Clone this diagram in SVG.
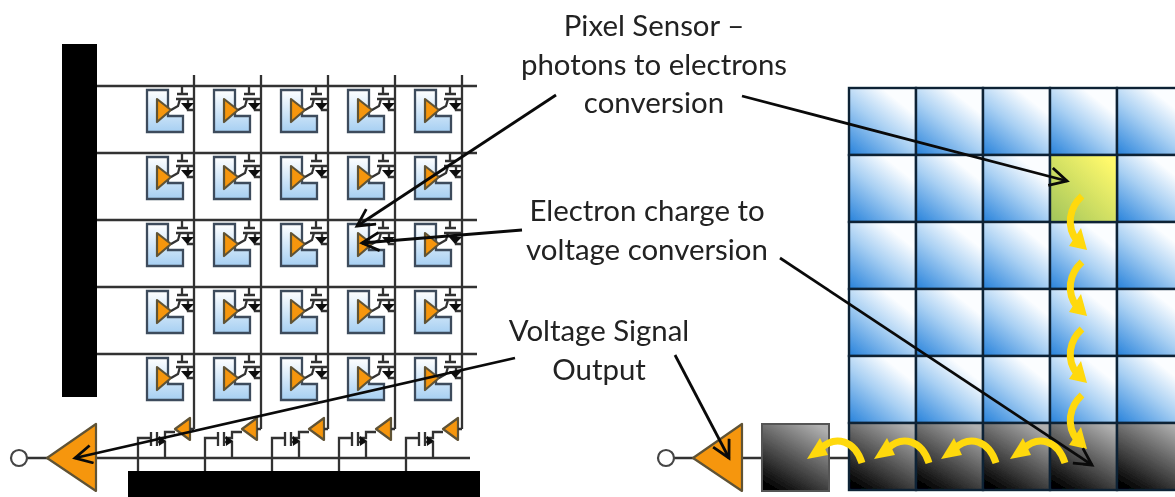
<svg xmlns="http://www.w3.org/2000/svg" xmlns:xlink="http://www.w3.org/1999/xlink" width="1175" height="497" viewBox="0 0 1175 497">
<style>
.lbl{font-family:Lato,"Liberation Sans",sans-serif;font-size:29.4px;fill:#222;text-anchor:middle}
.w{fill:none;stroke:#333;stroke-width:2.3}
.tri{fill:#f6960a;stroke:#5f5236;stroke-width:2.2;stroke-linejoin:round}
.cell{stroke:#0e2236;stroke-width:2.4}
.lead{fill:none;stroke:#0a0a0a;stroke-width:2.8}
.y{fill:none;stroke:#ffd90a;stroke-width:7}
.yh{fill:#ffd90a}
</style>
<defs>
<filter id="soft" x="-2%" y="-2%" width="104%" height="104%"><feGaussianBlur stdDeviation="0.7"/></filter>
<linearGradient id="blue" x1="0.1" y1="1" x2="0.9" y2="0"><stop offset="0" stop-color="#3389dd"/><stop offset="0.45" stop-color="#a9d0f3"/><stop offset="0.8" stop-color="#fbfdff"/></linearGradient>
<linearGradient id="dark" x1="0.2" y1="1" x2="0.8" y2="0"><stop offset="0" stop-color="#000"/><stop offset="1" stop-color="#b0b0b0"/></linearGradient>
<linearGradient id="hi" x1="0" y1="1" x2="1" y2="0"><stop offset="0" stop-color="#a0c45a"/><stop offset="0.9" stop-color="#fff96c"/></linearGradient>
<linearGradient id="pix" x1="0" y1="0" x2="0" y2="1"><stop offset="0" stop-color="#fff"/><stop offset="1" stop-color="#a6cff2"/></linearGradient>
<marker id="open" markerWidth="24" markerHeight="24" refX="18" refY="10" orient="auto" markerUnits="userSpaceOnUse"><path d="M1 1L18 10L1 19" fill="none" stroke="#0a0a0a" stroke-width="2.8"/></marker>
<g id="pixel">
<path d="M147 90H168V116H183V132H147Z" fill="url(#pix)" stroke="#3d4c5c" stroke-width="2.3"/>
<path d="M157 99L171 110L157 122Z" class="tri"/>
<path d="M182 86V94M177 94H188M176 99H193M180 99L178 106L171 110M188 99V110H194" class="w"/>
<path d="M181 103H194L187 110Z" fill="#111"/>
</g>
<g id="amp">
<path d="M175 429L190 418V440Z" class="tri"/>
<path d="M138 471V438H150M151 432V446M157 432V446M157 438H165V432H175M157 442H165V458M194 429H190" class="w"/>
<path d="M159 436L166 441L159 446Z" fill="#111"/>
</g>
<rect id="bc" width="67" height="67" fill="url(#blue)" class="cell"/>
<rect id="dc" width="67" height="67" fill="url(#dark)" class="cell"/>
<g id="ya">
<path d="M1082 196C1069 208 1066 226 1077 241" class="y"/>
<path d="M1069 246L1087 250L1081 228Z" class="yh"/>
</g>
<g id="xa">
<path d="M862 463C855 441 836 434 820 449" class="y"/>
<path d="M807 459L828 455L820 438Z" class="yh"/>
</g>
</defs>
<g filter="url(#soft)">
<g id="left-sensor-array">
<rect id="row-driver" x="62" y="44" width="35" height="353" fill="#000"/>
<rect id="column-bus" x="128" y="471" width="352" height="26" fill="#000"/>
<path d="M97 86H477M97 153H477M97 220H477M97 287H477M97 354H477M194 75V429M261 75V429M328 75V429M395 75V429M462 75V429M27 458H470" class="w"/>
<g id="pixels">
<use xlink:href="#pixel"/><use xlink:href="#pixel" x="67"/><use xlink:href="#pixel" x="134"/><use xlink:href="#pixel" x="201"/><use xlink:href="#pixel" x="268"/>
<use xlink:href="#pixel" y="67"/><use xlink:href="#pixel" x="67" y="67"/><use xlink:href="#pixel" x="134" y="67"/><use xlink:href="#pixel" x="201" y="67"/><use xlink:href="#pixel" x="268" y="67"/>
<use xlink:href="#pixel" y="134"/><use xlink:href="#pixel" x="67" y="134"/><use xlink:href="#pixel" x="134" y="134"/><use xlink:href="#pixel" x="201" y="134"/><use xlink:href="#pixel" x="268" y="134"/>
<use xlink:href="#pixel" y="201"/><use xlink:href="#pixel" x="67" y="201"/><use xlink:href="#pixel" x="134" y="201"/><use xlink:href="#pixel" x="201" y="201"/><use xlink:href="#pixel" x="268" y="201"/>
<use xlink:href="#pixel" y="268"/><use xlink:href="#pixel" x="67" y="268"/><use xlink:href="#pixel" x="134" y="268"/><use xlink:href="#pixel" x="201" y="268"/><use xlink:href="#pixel" x="268" y="268"/>
</g>
<g id="column-amps">
<use xlink:href="#amp"/><use xlink:href="#amp" x="67"/><use xlink:href="#amp" x="134"/><use xlink:href="#amp" x="201"/><use xlink:href="#amp" x="268"/>
</g>
<circle id="left-output" cx="19" cy="458" r="8" fill="#fff" stroke="#444" stroke-width="2.2"/>
<path id="left-amp" d="M47 458L96 424V491Z" class="tri"/>
</g>
<g id="right-sensor-array">
<path d="M674 458H762M829 458H849" class="w"/>
<circle id="right-output" cx="666" cy="458" r="8" fill="#fff" stroke="#444" stroke-width="2.2"/>
<path id="right-amp" d="M693 458L742 424V491Z" class="tri"/>
<rect id="output-register" x="762" y="424" width="67" height="67" fill="url(#dark)" stroke="#555" stroke-width="2"/>
<g id="cells">
<use xlink:href="#bc" x="849" y="88"/><use xlink:href="#bc" x="916" y="88"/><use xlink:href="#bc" x="983" y="88"/><use xlink:href="#bc" x="1050" y="88"/><use xlink:href="#bc" x="1117" y="88"/>
<use xlink:href="#bc" x="849" y="155"/><use xlink:href="#bc" x="916" y="155"/><use xlink:href="#bc" x="983" y="155"/><use xlink:href="#bc" x="1117" y="155"/>
<use xlink:href="#bc" x="849" y="222"/><use xlink:href="#bc" x="916" y="222"/><use xlink:href="#bc" x="983" y="222"/><use xlink:href="#bc" x="1050" y="222"/><use xlink:href="#bc" x="1117" y="222"/>
<use xlink:href="#bc" x="849" y="289"/><use xlink:href="#bc" x="916" y="289"/><use xlink:href="#bc" x="983" y="289"/><use xlink:href="#bc" x="1050" y="289"/><use xlink:href="#bc" x="1117" y="289"/>
<use xlink:href="#bc" x="849" y="356"/><use xlink:href="#bc" x="916" y="356"/><use xlink:href="#bc" x="983" y="356"/><use xlink:href="#bc" x="1050" y="356"/><use xlink:href="#bc" x="1117" y="356"/>
<use xlink:href="#dc" x="849" y="423"/><use xlink:href="#dc" x="916" y="423"/><use xlink:href="#dc" x="983" y="423"/><use xlink:href="#dc" x="1050" y="423"/><use xlink:href="#dc" x="1117" y="423"/>
<rect id="highlight-cell" x="1050" y="155" width="67" height="67" fill="url(#hi)" class="cell"/>
</g>
</g>
<g id="charge-transfer">
<use xlink:href="#ya"/><use xlink:href="#ya" y="66"/><use xlink:href="#ya" y="133"/><use xlink:href="#ya" y="199"/>
<use xlink:href="#xa"/><use xlink:href="#xa" x="67"/><use xlink:href="#xa" x="134"/><use xlink:href="#xa" x="203"/>
</g>
</g>
<g id="connectors">
<path d="M556 95L357 226" class="lead" marker-end="url(#open)"/>
<path d="M522 230L362 243" class="lead" marker-end="url(#open)"/>
<path d="M515 358L75 458" class="lead" marker-end="url(#open)"/>
<path d="M742 96L1067 181" class="lead" marker-end="url(#open)"/>
<path d="M780 258L1092 465" class="lead" marker-end="url(#open)"/>
<path d="M675 355L729 458" class="lead" marker-end="url(#open)"/>
</g>
<g id="labels">
<text class="lbl" x="654" y="36">Pixel Sensor –</text>
<text class="lbl" x="654" y="75">photons to electrons</text>
<text class="lbl" x="654" y="113">conversion</text>
<text class="lbl" x="647" y="221">Electron charge to</text>
<text class="lbl" x="647" y="260">voltage conversion</text>
<text class="lbl" x="599" y="341">Voltage Signal</text>
<text class="lbl" x="599" y="380">Output</text>
</g>
</svg>
